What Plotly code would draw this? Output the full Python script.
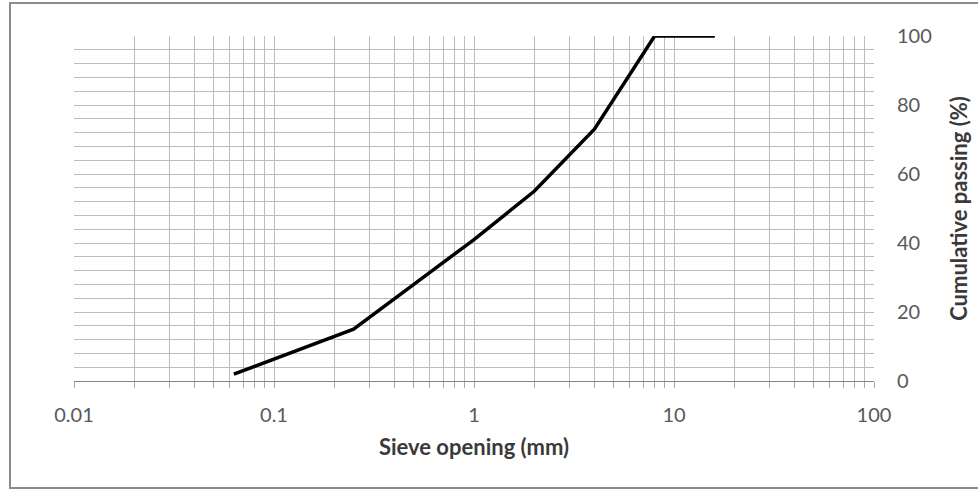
import plotly.graph_objects as go

# Grading curve: sieve opening (mm) vs cumulative passing (%)
sieve_mm = [0.063, 0.25, 0.5, 1, 2, 4, 8, 16]
passing_pct = [2, 15, 28, 41, 55, 73, 100, 100]

decade_labels = ["0.01", "0.1", "1", "10", "100"]
decades = [0.01, 0.1, 1, 10, 100]

# log-axis ticks: label each decade, leave the 2..9 subdivisions blank
tick_vals, tick_text = [], []
for d, lab in zip(decades, decade_labels):
    tick_vals.append(d)
    tick_text.append(lab)
    if d < 100:
        for m in range(2, 10):
            tick_vals.append(d * m)
            tick_text.append("")

W, H = 978, 490
L, R, T, B = 74, 104, 36, 109
pw, ph = W - L - R, H - T - B

def px_to_paper_x(px):
    return (px - L) / pw

def px_to_paper_y(py):
    return (H - B - py) / ph

font_family = "Lato, 'Open Sans', sans-serif"
grid_col = "#bcbcbc"

fig = go.Figure()
fig.add_trace(go.Scatter(
    x=sieve_mm, y=passing_pct, mode="lines",
    line=dict(color="#000000", width=3.5),
    showlegend=False, hoverinfo="x+y",
))

fig.update_layout(
    width=W, height=H,
    margin=dict(l=L, r=R, t=T, b=B),
    paper_bgcolor="white", plot_bgcolor="white",
    font=dict(family=font_family, color="#595959", size=20),
    xaxis=dict(
        type="log", range=[-2, 2],
        tickmode="array", tickvals=tick_vals, ticktext=tick_text,
        showgrid=True, gridcolor=grid_col, gridwidth=1,
        showline=True, linecolor="#868686", linewidth=1,
        ticks="outside", ticklen=6, tickcolor="#a6a6a6",
        tickfont=dict(size=20, color="#595959"),
        ticklabelstandoff=10,
        zeroline=False,
        title=dict(text="<b>Sieve opening (mm)</b>",
                   font=dict(size=22, color="#3a3a3a"), standoff=14),
    ),
    yaxis=dict(
        side="right", range=[0, 100], dtick=20,
        showgrid=True, gridcolor=grid_col, gridwidth=1,
        minor=dict(dtick=4, showgrid=True, gridcolor=grid_col, gridwidth=1),
        showline=False, ticks="",
        tickfont=dict(size=20, color="#595959"),
        ticklabelstandoff=22,
        zeroline=False,
        title=dict(text="<b>Cumulative passing (%)</b>",
                   font=dict(size=22, color="#3a3a3a"), standoff=20),
    ),
    shapes=[
        dict(type="rect", xref="paper", yref="paper", layer="above",
             x0=px_to_paper_x(10), x1=px_to_paper_x(985),
             y0=px_to_paper_y(488), y1=px_to_paper_y(3),
             line=dict(color="#8c8c8c", width=2)),
    ],
)

fig.write_html("out.html")
